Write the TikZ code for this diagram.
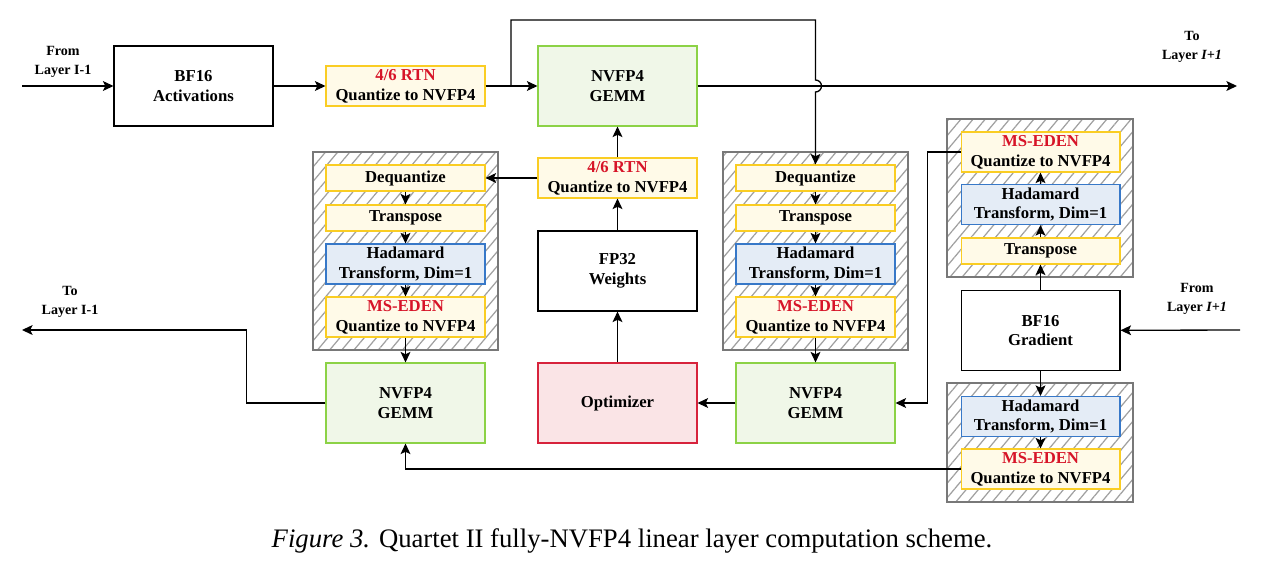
\documentclass[tikz,border=0pt]{standalone}
\usepackage{fontspec}
\setmainfont{Liberation Serif}
\usepackage{tikz}
\usetikzlibrary{arrows.meta,patterns.meta}
\definecolor{node_yellow}{RGB}{255,250,232}
\definecolor{edge_yellow}{RGB}{250,205,35}
\definecolor{node_green}{RGB}{240,247,232}
\definecolor{edge_green}{RGB}{140,210,70}
\definecolor{node_blue}{RGB}{228,236,246}
\definecolor{edge_blue}{RGB}{55,120,200}
\definecolor{node_red}{RGB}{250,228,230}
\definecolor{edge_red}{RGB}{215,35,60}
\definecolor{text_red}{RGB}{215,20,40}
\definecolor{edge_gray}{RGB}{120,120,120}
\definecolor{hatch_gray}{RGB}{160,160,160}
\newcommand{\redtxt}[1]{\textcolor{text_red}{#1}}

\begin{document}
\begin{tikzpicture}[x=0.02cm,y=-0.02cm,->,line width=0.75pt,>={Stealth[length=6pt,width=5.6pt,inset=1.3pt]}]
    \tikzstyle{layertext}=[text=black,align=center,font=\fontsize{8}{10.8}\selectfont\bfseries]
    \tikzstyle{blk}=[draw=black,rectangle,inner sep=0pt,minimum width=3.18cm,minimum height=1.6cm,align=center,font=\fontsize{9.5}{11.3}\selectfont\bfseries,line width=0.6pt]
    \tikzstyle{blkquant}=[style=blk,minimum height=0.8cm,fill=node_yellow,draw=edge_yellow]
    \tikzstyle{blkthin}=[style=blk,minimum height=0.52cm,fill=node_yellow,draw=edge_yellow]
    \tikzstyle{blkhad}=[style=blk,minimum height=0.8cm,fill=node_blue,draw=edge_blue]
    \tikzstyle{blkgemm}=[style=blk,fill=node_green,draw=edge_green]
    \tikzstyle{blkopt}=[style=blk,fill=node_red,draw=edge_red]
    \tikzstyle{stack}=[draw=edge_gray,rectangle,inner sep=0pt,line width=0.85pt,pattern={Lines[angle=50,distance=5.3pt,line width=0.7pt]},pattern color=hatch_gray]

    \useasboundingbox (0,0) rectangle (1261,569);

    % hatched groups
    \node[stack,minimum width=3.7cm,minimum height=3.96cm] (stackL) at (405.5,251) {};
    \node[stack,minimum width=3.7cm,minimum height=3.96cm] (stackM) at (815.5,251) {};
    \node[stack,minimum width=3.72cm,minimum height=3.16cm] (stackT) at (1040,198) {};
    \node[stack,minimum width=3.72cm,minimum height=2.38cm] (stackB) at (1040,442.5) {};

    % forward pass
    \node[blk] (act) at (193.5,86) {BF16\\Activations};
    \node[blkquant] (rtnA) at (405.5,86) {\redtxt{4/6 RTN}\\Quantize to NVFP4};
    \node[blkgemm] (gemmF) at (617.5,86) {NVFP4\\GEMM};
    \node[blkquant] (rtnW) at (617.5,178) {\redtxt{4/6 RTN}\\Quantize to NVFP4};
    \node[blk] (fp32) at (617.5,271) {FP32\\Weights};
    \node[blkopt] (opt) at (617.5,403) {Optimizer};

    % left column
    \node[blkthin] (deqL) at (405.5,178) {Dequantize};
    \node[blkthin] (trL) at (405.5,218) {Transpose};
    \node[blkhad] (hadL) at (405.5,264) {Hadamard\\Transform, Dim=1};
    \node[blkquant] (edenL) at (405.5,317) {\redtxt{MS-EDEN}\\Quantize to NVFP4};
    \node[blkgemm] (gemmX) at (405.5,403) {NVFP4\\GEMM};

    % middle column
    \node[blkthin] (deqM) at (815.5,178) {Dequantize};
    \node[blkthin] (trM) at (815.5,218) {Transpose};
    \node[blkhad] (hadM) at (815.5,264) {Hadamard\\Transform, Dim=1};
    \node[blkquant] (edenM) at (815.5,317) {\redtxt{MS-EDEN}\\Quantize to NVFP4};
    \node[blkgemm] (gemmW) at (815.5,403) {NVFP4\\GEMM};

    % gradient column
    \node[blkquant] (edenT) at (1040.5,152) {\redtxt{MS-EDEN}\\Quantize to NVFP4};
    \node[blkhad] (hadT) at (1040.5,204.5) {Hadamard\\Transform, Dim=1};
    \node[blkthin] (trT) at (1040.5,251) {Transpose};
    \node[blk] (grad) at (1040.5,330.5) {BF16\\Gradient};
    \node[blkhad] (hadB) at (1040.5,416.5) {Hadamard\\Transform, Dim=1};
    \node[blkquant] (edenB) at (1040.5,469) {\redtxt{MS-EDEN}\\Quantize to NVFP4};

    \node[layertext] (fromPrev) at (63,61.5) {From\\Layer I-1};
    \node[layertext] (toNext) at (1192,46.5) {To\\Layer \textit{I+1}};
    \node[layertext] (toPrev) at (70,301.5) {To\\Layer I-1};
    \node[layertext] (fromNext) at (1197,298.5) {From\\Layer \textit{I+1}};

    \coordinate (inAct) at (22,86);
    \coordinate (outAct) at (1237,86);
    \coordinate (outGrad) at (22,330);
    \coordinate (inGrad) at (1240,330);
    \coordinate (split) at (511,86);
    \coordinate (loopL) at (511,20);
    \coordinate (loopR) at (815.5,20);
    \coordinate (jumpA) at (815.5,80);

    \path
     (inAct) edge (act)
     (act) edge (rtnA)
     (rtnA) edge (gemmF)
     (gemmF) edge (outAct)
     (rtnW) edge (gemmF)
     (rtnW) edge (deqL)
     (fp32) edge (rtnW)
     (opt) edge (fp32)
     (deqL) edge (trL)
     (trL) edge (hadL)
     (hadL) edge (edenL)
     (edenL) edge (gemmX)
     (deqM) edge (trM)
     (trM) edge (hadM)
     (hadM) edge (edenM)
     (edenM) edge (gemmW)
     (gemmW) edge (opt)
     (inGrad) edge (grad)
     (grad) edge (trT)
     (trT) edge (hadT)
     (hadT) edge (edenT)
     (grad) edge (hadB)
     (hadB) edge (edenB);

    \draw (split) -- (loopL) -- (loopR) -- (jumpA) arc[start angle=90,end angle=-90,radius=0.12cm] -- (deqM);
    \draw (gemmX.west) -- ++(-79,0) |- (outGrad);
    \draw (edenT.west) -- ++(-33,0) |- (gemmW.east);
    \draw (edenB.west) -| (gemmX.south);

    \node[font=\fontsize{15.2}{18}\selectfont] (caption) at (632,541) {\textit{Figure 3.} Quartet II fully-NVFP4 linear layer computation scheme.};
\end{tikzpicture}
\end{document}
